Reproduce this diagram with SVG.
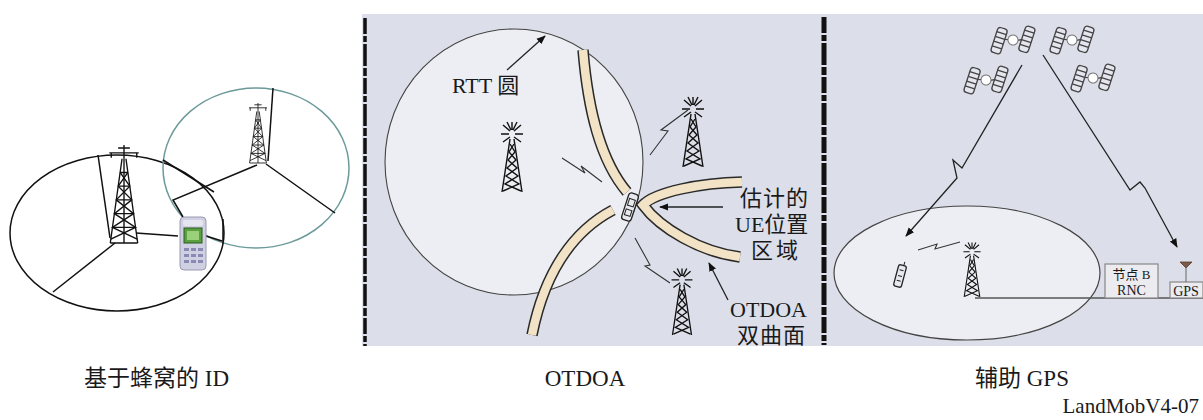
<svg xmlns="http://www.w3.org/2000/svg" width="1203" height="420" viewBox="0 0 1203 420">
<style>
.lbl{font-family:"Liberation Serif","Noto Sans CJK SC",serif;fill:#1a1a1a}
.ln{fill:none;stroke:#111;stroke-width:1.5}
.thin{fill:none;stroke:#333;stroke-width:1.1}
.band-o{fill:none;stroke:#2a2a2a;stroke-width:11.5}
.band-i{fill:none;stroke:#f2e2c6;stroke-width:8.5}
.bar{fill:none;stroke:#111;stroke-dasharray:16 2 6 2 22 2 8 2}
.arr{fill:none;stroke:#222;stroke-width:1.3;marker-end:url(#ah)}
</style>
<defs>
  <marker id="ah" viewBox="0 0 10 10" refX="9" refY="5" markerWidth="7" markerHeight="7" orient="auto">
    <path d="M0,1 L10,5 L0,9 Z" fill="#111"/>
  </marker>
  <!-- radio mast with radiating antenna, base centre at 0,0 -->
  <g id="mast" fill="none" stroke="#111" stroke-width="1.4">
    <path d="M-3,-58 H-11 M3,-58 H11 M-2,-61 L-9,-67 M2,-61 L9,-67 M-2,-55 L-9,-50 M2,-55 L9,-50 M0,-62 V-70 M-1,-62 L-5,-70 M1,-62 L5,-70"/>
    <path d="M-2,-53 L-10,0 M2,-53 L10,0"/>
    <path d="M-2,-48 L3,-40 L-4,-32 L5,-24 L-6,-16 L7,-8 L-9,-1 M2,-48 L-3,-40 L4,-32 L-5,-24 L6,-16 L-7,-8 L9,-1"/>
  </g>
  <!-- lattice pylon with cross arm, base centre at 0,0, height 100 -->
  <g id="pylon" fill="none" stroke="#111" stroke-width="1.4">
    <path d="M0,-100 V-86 M-15,-92 H15 M-13,-92 V-87 M13,-92 V-87 M-6,-97 H6"/>
    <path d="M-2,-86 L-14,0 M2,-86 L14,0 M0,-86 V0"/>
    <path d="M-4,-72 H4 M-5.9,-58 H5.9 M-7.9,-44 H7.9 M-9.8,-30 H9.8 M-11.8,-16 H11.8 M-14,0 H14"/>
    <path d="M-4,-72 L5.9,-58 L-7.9,-44 L9.8,-30 L-11.8,-16 L13.4,-4 M4,-72 L-5.9,-58 L7.9,-44 L-9.8,-30 L11.8,-16 L-13.4,-4"/>
  </g>
  <!-- satellite: body between two ribbed solar panels -->
  <g id="sat">
    <g stroke="#444" stroke-width="1.3" fill="#e4e5ee">
      <rect x="-18" y="-8" width="10" height="26" rx="3"/>
      <rect x="8" y="-18" width="10" height="26" rx="3"/>
    </g>
    <path d="M-18,-3 h10 M-18,2 h10 M-18,7 h10 M-18,12 h10 M8,-13 h10 M8,-8 h10 M8,-3 h10 M8,2 h10 M-8,2 L-4,1 M4,-1 L8,-3" stroke="#444" stroke-width="1.3" fill="none"/>
    <circle r="5" fill="#fff" stroke="#777" stroke-width="1"/>
  </g>
</defs>

<rect width="1203" height="420" fill="#fff"/>

<!-- shaded panels for OTDOA and assisted GPS -->
<rect x="362" y="14" width="841" height="332" fill="#dcdfe9"/>
<line class="bar" x1="365" y1="18" x2="365" y2="346" stroke-width="3.5"/>
<line class="bar" x1="824" y1="17" x2="824" y2="345" stroke-width="5"/>

<!-- ===== Cell ID ===== -->
<g id="cellid">
  <ellipse cx="117" cy="233" rx="107" ry="78" class="ln"/>
  <ellipse cx="256" cy="168" rx="93" ry="80" fill="none" stroke="#6c9a9a" stroke-width="1.5"/>
  <g class="ln">
    <path d="M98,155 L110,238"/>
    <path d="M115,243 L53,292"/>
    <path d="M136,233 L178,236"/>
    <path d="M273,88 L268,161"/>
    <path d="M266,164 L335,213"/>
    <path d="M257,165 L173,200 L183,217"/>
    <path d="M163,160 L214,192"/>
    <path d="M206,236 L222,241 M223,219 V244"/>
  </g>
  <use href="#pylon" transform="translate(124,243) scale(0.98)"/>
  <use href="#pylon" transform="translate(258,163) scale(0.6)"/>
  <g id="handset">
    <rect x="180" y="217" width="26" height="53" rx="4" fill="#cfd0e2" stroke="#9a9ab4" stroke-width="1"/>
    <rect x="183" y="220" width="20" height="6" rx="2" fill="#e6e6f0"/>
    <rect x="184" y="228" width="18" height="15" fill="#5aa040" stroke="#2c5a20" stroke-width="1"/>
    <rect x="187" y="231" width="12" height="9" fill="#9ad07a"/>
    <g fill="#8a8ab4">
      <rect x="184" y="248" width="5" height="3"/><rect x="191" y="248" width="5" height="3"/><rect x="198" y="248" width="5" height="3"/>
      <rect x="184" y="254" width="5" height="3"/><rect x="191" y="254" width="5" height="3"/><rect x="198" y="254" width="5" height="3"/>
      <rect x="184" y="260" width="5" height="3"/><rect x="191" y="260" width="5" height="3"/><rect x="198" y="260" width="5" height="3"/>
    </g>
  </g>
</g>

<!-- ===== OTDOA ===== -->
<g id="otdoa">
  <ellipse cx="514" cy="162" rx="129" ry="133" fill="#eceef3" stroke="#444" stroke-width="1.1"/>
  <g id="hyperbolas">
    <path class="band-o" d="M583,50 C588,110 600,160 627,192"/>
    <path class="band-i" d="M583,50 C588,110 600,160 627,192"/>
    <path class="band-o" d="M613,210 C575,230 545,270 532,335"/>
    <path class="band-i" d="M613,210 C575,230 545,270 532,335"/>
    <path class="band-o" d="M742,182 C700,183 655,192 643,205 C660,228 700,252 740,257"/>
    <path class="band-i" d="M742,182 C700,183 655,192 643,205 C660,228 700,252 740,257"/>
  </g>
  <g id="ue" transform="translate(630,207) rotate(18)">
    <rect x="-5" y="-14" width="10" height="28" rx="3" fill="#e8e9ef" stroke="#222" stroke-width="1.3"/>
    <rect x="-3" y="-8" width="6" height="7" fill="none" stroke="#222" stroke-width="1"/>
    <rect x="-3" y="3" width="6" height="6" fill="none" stroke="#222" stroke-width="1"/>
  </g>
  <use href="#mast" transform="translate(512,192)"/>
  <use href="#mast" transform="translate(693,167)"/>
  <use href="#mast" transform="translate(682,335) scale(0.95)"/>
  <g class="thin">
    <path d="M562,158 L585,173 L581,166 L602,182"/>
    <path d="M650,155 L668,131 L661,130 L688,110"/>
    <path d="M635,238 L650,265 L645,266 L670,283"/>
  </g>
  <g id="otdoa-labels">
    <path class="arr" d="M507,70 L545,36"/>
    <text class="lbl" x="452" y="93" font-size="22">RTT 圆</text>
    <path class="arr" d="M723,207 L660,207"/>
    <text class="lbl" x="740" y="206" font-size="22" letter-spacing="1">估计的</text>
    <text class="lbl" x="735" y="232" font-size="22">UE位置</text>
    <text class="lbl" x="751" y="258" font-size="22" letter-spacing="3">区域</text>
    <path class="arr" d="M728,300 L709,263"/>
    <text class="lbl" x="730" y="317" font-size="22">OTDOA</text>
    <text class="lbl" x="737" y="343" font-size="22" letter-spacing="1">双曲面</text>
  </g>
</g>

<!-- ===== Assisted GPS ===== -->
<g id="agps">
  <ellipse cx="967" cy="273" rx="133" ry="67" fill="#eceef3" stroke="#444" stroke-width="1.2"/>
  <use href="#sat" transform="translate(1013,40) rotate(18)"/>
  <use href="#sat" transform="translate(986,80) rotate(18)"/>
  <use href="#sat" transform="translate(1072,40) rotate(18)"/>
  <use href="#sat" transform="translate(1093,78) rotate(18)"/>
  <path class="arr" d="M1022,65 L962,168 L953,160 L957,178 L906,236"/>
  <path class="arr" d="M1043,55 L1130,190 L1140,182 L1145,188 L1177,247"/>
  <g id="ms" transform="translate(900,276) rotate(15)">
    <rect x="-4" y="-11" width="8" height="22" rx="2" fill="#e8e9ef" stroke="#222" stroke-width="1.3"/>
    <path d="M-2,-6 H2 M-2,0 H2 M-2,5 H2 M1,-11 V-15" stroke="#222" stroke-width="1" fill="none"/>
  </g>
  <path class="thin" d="M918,250 L937,244 L935,249 L960,242"/>
  <use href="#mast" transform="translate(972,297) scale(0.78)"/>
  <line x1="975" y1="298" x2="1203" y2="298" stroke="#555" stroke-width="1.5"/>
  <g id="rnc">
    <rect x="1105" y="264" width="53" height="34" fill="#ebebf0" stroke="#888" stroke-width="1.2"/>
    <text class="lbl" x="1131.5" y="279" font-size="13" text-anchor="middle">节点 B</text>
    <text class="lbl" x="1131.5" y="295" font-size="14" text-anchor="middle">RNC</text>
  </g>
  <g id="gps">
    <rect x="1170" y="282" width="33" height="16" fill="#ebebf0" stroke="#888" stroke-width="1.2"/>
    <text class="lbl" x="1186" y="296" font-size="14" text-anchor="middle">GPS</text>
    <path d="M1180,262 L1192,262 L1186,268 Z" fill="#7a5a4a" stroke="#5a3a2a" stroke-width="0.8"/>
    <line x1="1186" y1="268" x2="1186" y2="282" stroke="#666" stroke-width="1"/>
  </g>
</g>

<!-- captions -->
<text class="lbl" x="84" y="386" font-size="23">基于蜂窝的 ID</text>
<text class="lbl" x="585" y="386" font-size="23" text-anchor="middle">OTDOA</text>
<text class="lbl" x="975" y="386" font-size="23">辅助 GPS</text>
<text class="lbl" x="1199" y="413" font-size="21" text-anchor="end">LandMobV4-07</text>
</svg>
